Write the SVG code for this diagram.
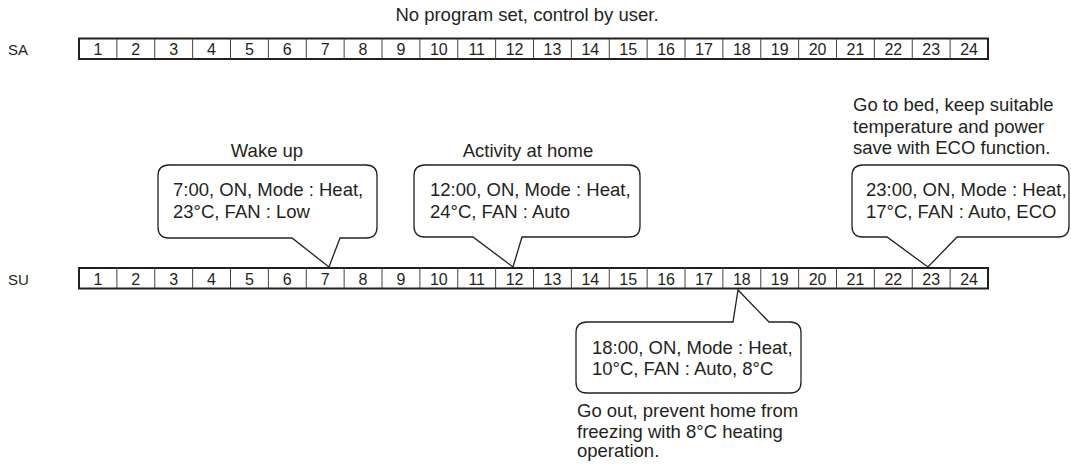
<svg xmlns="http://www.w3.org/2000/svg" width="1071" height="466" viewBox="0 0 1071 466">
<style>
text{font-family:"Liberation Sans",Arial,sans-serif;fill:#231f20}
.t{font-size:18.5px}
.n{font-size:16px;text-anchor:middle}
.lab{font-size:15px}
.c{text-anchor:middle}
.bar{fill:#fff;stroke:#231f20;stroke-width:2}
.div{fill:none;stroke:#444;stroke-width:1}
.bub{fill:#fff;stroke:#231f20;stroke-width:1.3;stroke-linejoin:miter}
</style>
<rect width="1071" height="466" fill="#fff"/>
<text class="t c" x="527" y="21">No program set, control by user.</text>

<g id="row-sa">
<text class="lab" x="8" y="55">SA</text>
<rect class="bar" x="79" y="38.5" width="909" height="20.5"/>
<path class="div" d="M116.88,38.5V59M154.75,38.5V59M192.63,38.5V59M230.5,38.5V59M268.38,38.5V59M306.25,38.5V59M344.13,38.5V59M382,38.5V59M419.88,38.5V59M457.75,38.5V59M495.63,38.5V59M533.5,38.5V59M571.38,38.5V59M609.25,38.5V59M647.13,38.5V59M685,38.5V59M722.88,38.5V59M760.75,38.5V59M798.63,38.5V59M836.5,38.5V59M874.38,38.5V59M912.25,38.5V59M950.13,38.5V59"/>
<text class="n" x="97.94" y="55">1</text><text class="n" x="135.81" y="55">2</text><text class="n" x="173.69" y="55">3</text><text class="n" x="211.56" y="55">4</text><text class="n" x="249.44" y="55">5</text><text class="n" x="287.31" y="55">6</text><text class="n" x="325.19" y="55">7</text><text class="n" x="363.06" y="55">8</text><text class="n" x="400.94" y="55">9</text><text class="n" x="438.81" y="55">10</text><text class="n" x="476.69" y="55">11</text><text class="n" x="514.56" y="55">12</text><text class="n" x="552.44" y="55">13</text><text class="n" x="590.31" y="55">14</text><text class="n" x="628.19" y="55">15</text><text class="n" x="666.06" y="55">16</text><text class="n" x="703.94" y="55">17</text><text class="n" x="741.81" y="55">18</text><text class="n" x="779.69" y="55">19</text><text class="n" x="817.56" y="55">20</text><text class="n" x="855.44" y="55">21</text><text class="n" x="893.31" y="55">22</text><text class="n" x="931.19" y="55">23</text><text class="n" x="969.06" y="55">24</text>
</g>

<g id="row-su">
<text class="lab" x="8" y="285">SU</text>
<rect class="bar" x="79" y="268" width="909" height="20.5"/>
<path class="div" d="M116.88,268V288.5M154.75,268V288.5M192.63,268V288.5M230.5,268V288.5M268.38,268V288.5M306.25,268V288.5M344.13,268V288.5M382,268V288.5M419.88,268V288.5M457.75,268V288.5M495.63,268V288.5M533.5,268V288.5M571.38,268V288.5M609.25,268V288.5M647.13,268V288.5M685,268V288.5M722.88,268V288.5M760.75,268V288.5M798.63,268V288.5M836.5,268V288.5M874.38,268V288.5M912.25,268V288.5M950.13,268V288.5"/>
<text class="n" x="97.94" y="285">1</text><text class="n" x="135.81" y="285">2</text><text class="n" x="173.69" y="285">3</text><text class="n" x="211.56" y="285">4</text><text class="n" x="249.44" y="285">5</text><text class="n" x="287.31" y="285">6</text><text class="n" x="325.19" y="285">7</text><text class="n" x="363.06" y="285">8</text><text class="n" x="400.94" y="285">9</text><text class="n" x="438.81" y="285">10</text><text class="n" x="476.69" y="285">11</text><text class="n" x="514.56" y="285">12</text><text class="n" x="552.44" y="285">13</text><text class="n" x="590.31" y="285">14</text><text class="n" x="628.19" y="285">15</text><text class="n" x="666.06" y="285">16</text><text class="n" x="703.94" y="285">17</text><text class="n" x="741.81" y="285">18</text><text class="n" x="779.69" y="285">19</text><text class="n" x="817.56" y="285">20</text><text class="n" x="855.44" y="285">21</text><text class="n" x="893.31" y="285">22</text><text class="n" x="931.19" y="285">23</text><text class="n" x="969.06" y="285">24</text>
</g>

<g id="connectors"></g>

<g id="callout-wake">
<text class="t c" x="267" y="157">Wake up</text>
<path class="bub" d="M169,165H366Q377,165 377,176V227Q377,238 366,238H340L329,267L292,238H169Q158,238 158,227V176Q158,165 169,165Z"/>
<text class="t" x="173" y="196">7:00, ON, Mode : Heat,</text>
<text class="t" x="173" y="218">23°C, FAN : Low</text>
</g>

<g id="callout-home">
<text class="t c" x="528" y="157">Activity at home</text>
<path class="bub" d="M425,165H629Q640,165 640,176V226Q640,237 629,237H522L513,267L473,237H425Q414,237 414,226V176Q414,165 425,165Z"/>
<text class="t" x="430" y="196">12:00, ON, Mode : Heat,</text>
<text class="t" x="430" y="218">24°C, FAN : Auto</text>
</g>

<g id="callout-bed">
<text class="t" x="853" y="111">Go to bed, keep suitable</text>
<text class="t" x="853" y="133">temperature and power</text>
<text class="t" x="853" y="154">save with ECO function.</text>
<path class="bub" d="M863,165H1058Q1069,165 1069,176V226Q1069,237 1058,237H957L928,267L887,237H863Q852,237 852,226V176Q852,165 863,165Z"/>
<text class="t" x="866" y="196">23:00, ON, Mode : Heat,</text>
<text class="t" x="866" y="218">17°C, FAN : Auto, ECO</text>
</g>

<g id="callout-out">
<path class="bub" d="M587,322H733L738,290L769,322H790Q801,322 801,333V382Q801,393 790,393H587Q576,393 576,382V333Q576,322 587,322Z"/>
<text class="t" x="592" y="354">18:00, ON, Mode : Heat,</text>
<text class="t" x="592" y="375">10°C, FAN : Auto, 8°C</text>
<text class="t" x="577" y="417">Go out, prevent home from</text>
<text class="t" x="577" y="438">freezing with 8°C heating</text>
<text class="t" x="577" y="457">operation.</text>
</g>
</svg>
